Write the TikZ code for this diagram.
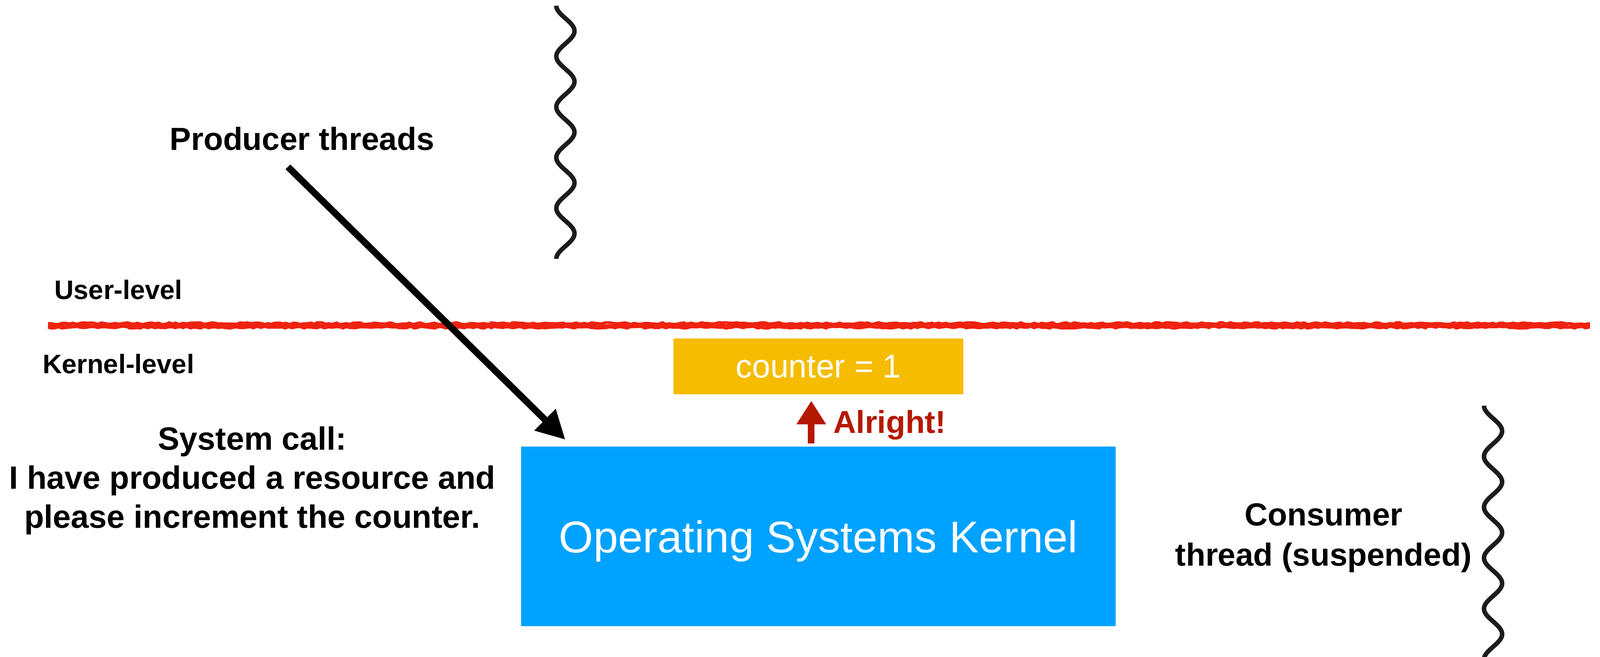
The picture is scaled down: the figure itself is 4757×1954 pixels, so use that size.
\documentclass[tikz,border=0pt]{standalone}
\usepackage{fontspec}
\setmainfont{Liberation Sans}
\usetikzlibrary{arrows.meta,decorations.pathmorphing}

\begin{document}
\begin{tikzpicture}[x=0.01cm,y=-0.01cm,
    btext/.style={font=\fontsize{27}{32}\selectfont\bfseries,align=center},
    lvltext/.style={font=\fontsize{22.6}{27}\selectfont\bfseries},
    kbox/.style={inner sep=0pt,text=white},
    wavy/.style={color=kBlack,line width=3.8pt},
    bigarrow/.style={line width=0.2cm,-{Triangle[length=0.85cm,width=0.85cm]}}]
  \definecolor{kBlue}{RGB}{0,162,255}
  \definecolor{kGold}{RGB}{245,188,0}
  \definecolor{kRed}{RGB}{238,34,17}
  \definecolor{kDarkRed}{RGB}{181,24,0}
  \definecolor{kBlack}{RGB}{28,28,28}

  \useasboundingbox (0,0) rectangle (4757,1954);

  % threads
  \foreach \cx/\ty/\by/\per in {1681/17/770/150.6, 4439/1207/1962/151}
  {
    \draw[wavy] plot[domain=\ty:\by,samples=300,smooth] ({\cx-27*cos((\x-\ty)*(360/\per))},\x);
  }

  % user / kernel boundary
  \foreach \dy in {-6,-2,2,6}
  {
    \draw[color=kRed,line width=2.2pt,decorate,decoration={random steps,segment length=3pt,amplitude=0.8pt}]
      (143,968+\dy) -- (4727,968+\dy);
  }
  \node[lvltext] (user) at (352,862) {User-level};
  \node[lvltext] (kern) at (352,1083) {Kernel-level};

  % kernel and counter
  \node[kbox,fill=kBlue,minimum width=17.66cm,minimum height=5.34cm,text depth=0pt,
        font=\fontsize{37.6}{45}\selectfont] (kernel) at (2433,1596) {Operating Systems Kernel};
  \node[kbox,fill=kGold,minimum width=8.62cm,minimum height=1.67cm,
        font=\fontsize{27.8}{33}\selectfont] (counter) at (2433,1090) {counter = 1};
  \draw[bigarrow,color=kDarkRed,-{Triangle[length=0.7cm,width=0.83cm]}]
    ([xshift=-0.21cm,yshift=0.09cm]kernel.north) -- ([xshift=-0.21cm,yshift=-0.18cm]counter.south);
  \node[btext,text=kDarkRed,font=\fontsize{26.8}{32}\selectfont\bfseries] (ok) at (2645,1264) {Alright!};

  % producer side
  \node[btext] (producer) at (898,413) {Producer threads};
  \draw[bigarrow,color=black]
    ([xshift=-0.42cm,yshift=-0.36cm]producer.south) -- ([xshift=1.32cm,yshift=0.2cm]kernel.north west);
  \node[btext,font=\fontsize{27.3}{33}\selectfont\bfseries] (syscall) at (750,1430) {System call:\\I have produced a resource and\\please increment the counter.};

  % consumer side
  \node[btext,font=\fontsize{27}{34}\selectfont\bfseries] (consumer) at (3935,1600) {Consumer\\thread (suspended)};
\end{tikzpicture}
\end{document}
